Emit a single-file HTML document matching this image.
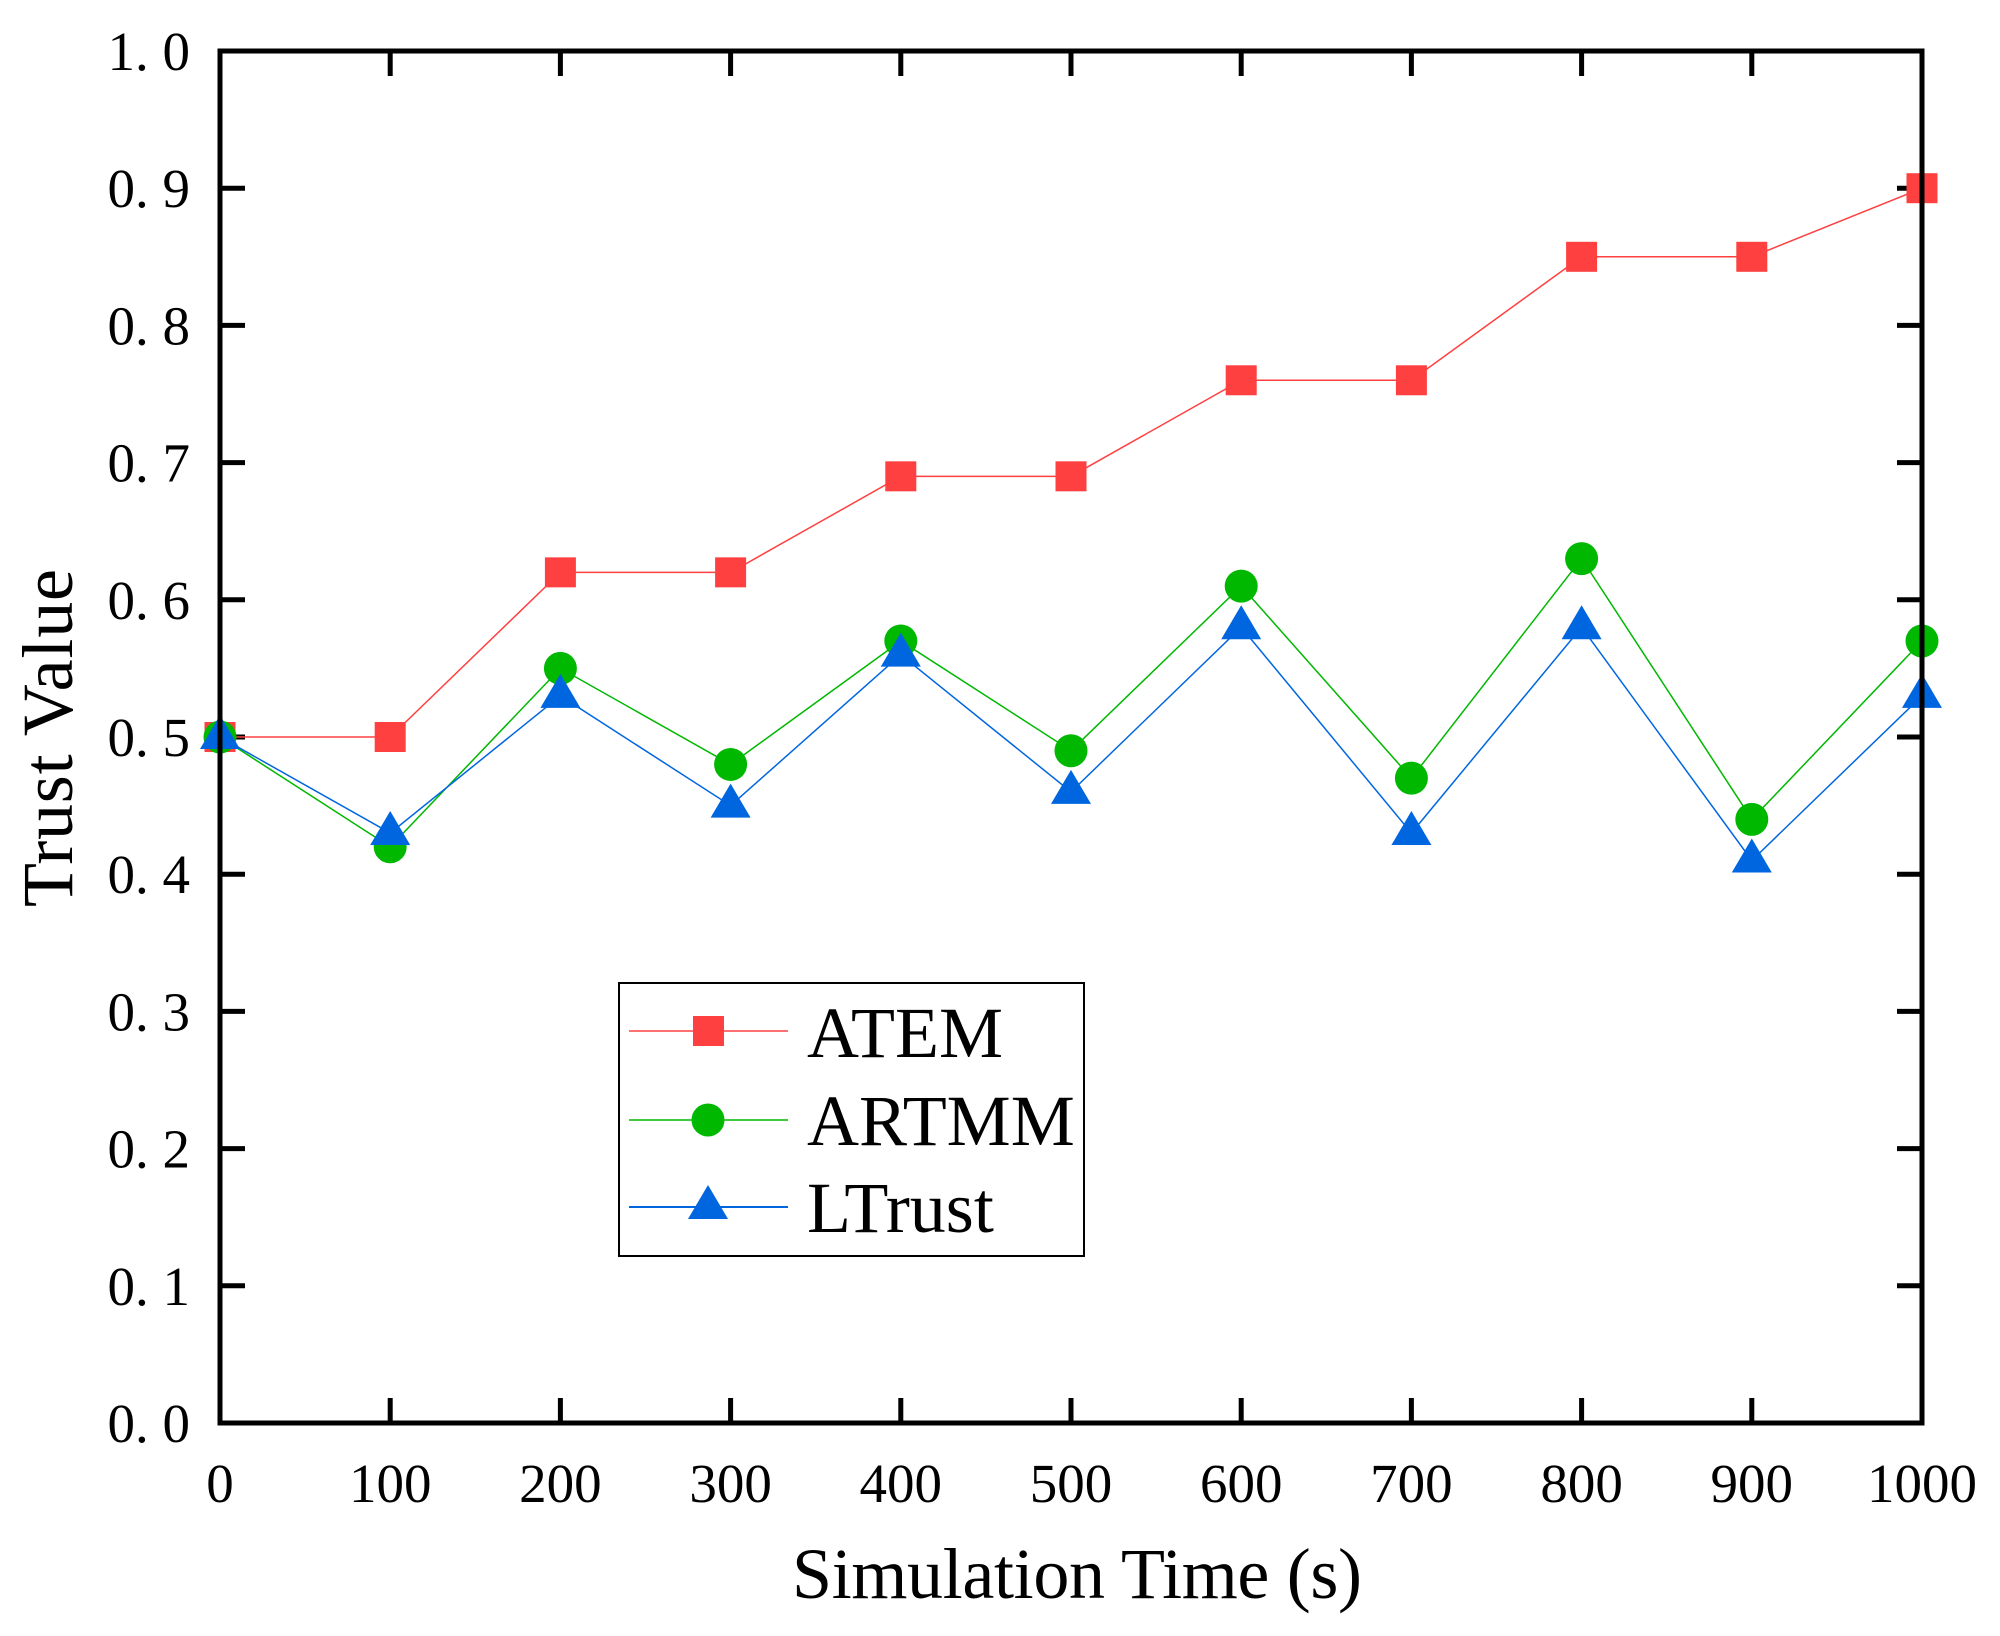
<!DOCTYPE html>
<html><head><meta charset="utf-8"><style>
html,body{margin:0;padding:0;background:#fff;}
svg{display:block;font-family:"Liberation Serif",serif;}
</style></head><body>
<svg id="chart" width="2000" height="1636" viewBox="0 0 2000 1636">
<g id="grid"></g>
<g id="series"></g>
<rect x="220" y="51" width="1702" height="1372" fill="none" stroke="#000" stroke-width="5"/>
<text x="1077" y="1598" font-size="72" text-anchor="middle" textLength="570">Simulation Time (s)</text>
<text transform="translate(72,738) rotate(-90)" font-size="72" text-anchor="middle" textLength="338">Trust Value</text>
<g>
<rect x="619" y="983" width="465" height="273" fill="#fff" stroke="#000" stroke-width="2"/>
<g>
<line x1="629" y1="1031" x2="788" y2="1031" stroke="#ff4040" stroke-width="1.5"/>
<rect x="693" y="1016" width="31" height="30" fill="#ff4040"/>
<text x="807" y="1057" font-size="72">ATEM</text></g>
<g>
<line x1="629" y1="1120" x2="788" y2="1120" stroke="#00b800" stroke-width="1.5"/>
<circle cx="708" cy="1120" r="16.5" fill="#00b800"/>
<text x="807" y="1145" font-size="72">ARTMM</text></g>
<g>
<line x1="629" y1="1207" x2="788" y2="1207" stroke="#0066e0" stroke-width="2"/>
<polygon points="708,1185 728,1219 688,1219" fill="#0066e0"/>
<text x="807" y="1232" font-size="72">LTrust</text></g>
</g>
</svg>
<script>
const xCategories=[0,100,200,300,400,500,600,700,800,900,1000];
const atemValues=[0.50,0.50,0.62,0.62,0.69,0.69,0.76,0.76,0.85,0.85,0.90];
const artmmValues=[0.50,0.42,0.55,0.48,0.57,0.49,0.61,0.47,0.63,0.44,0.57];
const ltrustValues=[0.50,0.43,0.53,0.45,0.56,0.46,0.58,0.43,0.58,0.41,0.53];
const yTicks=[0,0.1,0.2,0.3,0.4,0.5,0.6,0.7,0.8,0.9,1.0];
const yTickLabels=["0. 0","0. 1","0. 2","0. 3","0. 4","0. 5","0. 6","0. 7","0. 8","0. 9","1. 0"];
const NS="http://www.w3.org/2000/svg";
const X0=220,X1=1922,Y0=1423,Y1=51;
function sx(v){return X0+(v-0)/(1000-0)*(X1-X0);}
function sy(v){return Y0-(v-0)/(1-0)*(Y0-Y1);}
function mk(tag,attrs,parent){const e=document.createElementNS(NS,tag);for(const k in attrs)e.setAttribute(k,attrs[k]);parent.appendChild(e);return e;}
const grid=document.getElementById('grid');
xCategories.forEach(v=>{
  const x=sx(v);
  const t=mk('line',{x1:x,y1:Y0,x2:x,y2:Y0-25,stroke:'#000','stroke-width':5},grid);
  
  
  const t2=mk('line',{x1:x,y1:Y1,x2:x,y2:Y1+25,stroke:'#000','stroke-width':5},grid);
  
  
  const l=mk('text',{x:x,y:1502,'font-size':55,'text-anchor':'middle'},grid);
  l.textContent=String(v);
  
  
});
yTicks.forEach((v,i)=>{
  const y=sy(v);
  const t=mk('line',{x1:X0,y1:y,x2:X0+25,y2:y,stroke:'#000','stroke-width':5},grid);
  
  
  const t2=mk('line',{x1:X1,y1:y,x2:X1-25,y2:y,stroke:'#000','stroke-width':5},grid);
  
  
  const l=mk('text',{x:190,y:y+19,'font-size':55,'text-anchor':'end','xml:space':'preserve'},grid);
  l.textContent=yTickLabels[i];
  
  
});
const series=document.getElementById('series');
function drawSeries(vals,color,shape,name){
  const g=mk('g',{},series);
  
  
  const pts=vals.map((v,i)=>sx(xCategories[i])+','+sy(v)).join(' ');
  const pl=mk('polyline',{points:pts,fill:'none',stroke:color,'stroke-width':1.5},g);
  
  
  vals.forEach((v,i)=>{
    const x=sx(xCategories[i]),y=sy(v);let m;
    if(shape==='square')m=mk('rect',{x:x-15.5,y:y-15,width:31,height:30,fill:color},g);
    else if(shape==='circle')m=mk('circle',{cx:x,cy:y,r:16.5,fill:color},g);
    else m=mk('polygon',{points:`${x},${y-22} ${x+20},${y+12} ${x-20},${y+12}`,fill:color},g);
    
    
  });
}
drawSeries(atemValues,'#ff4040','square','atem');
drawSeries(artmmValues,'#00b800','circle','artmm');
drawSeries(ltrustValues,'#0066e0','triangle','ltrust');
</script>
</body></html>
